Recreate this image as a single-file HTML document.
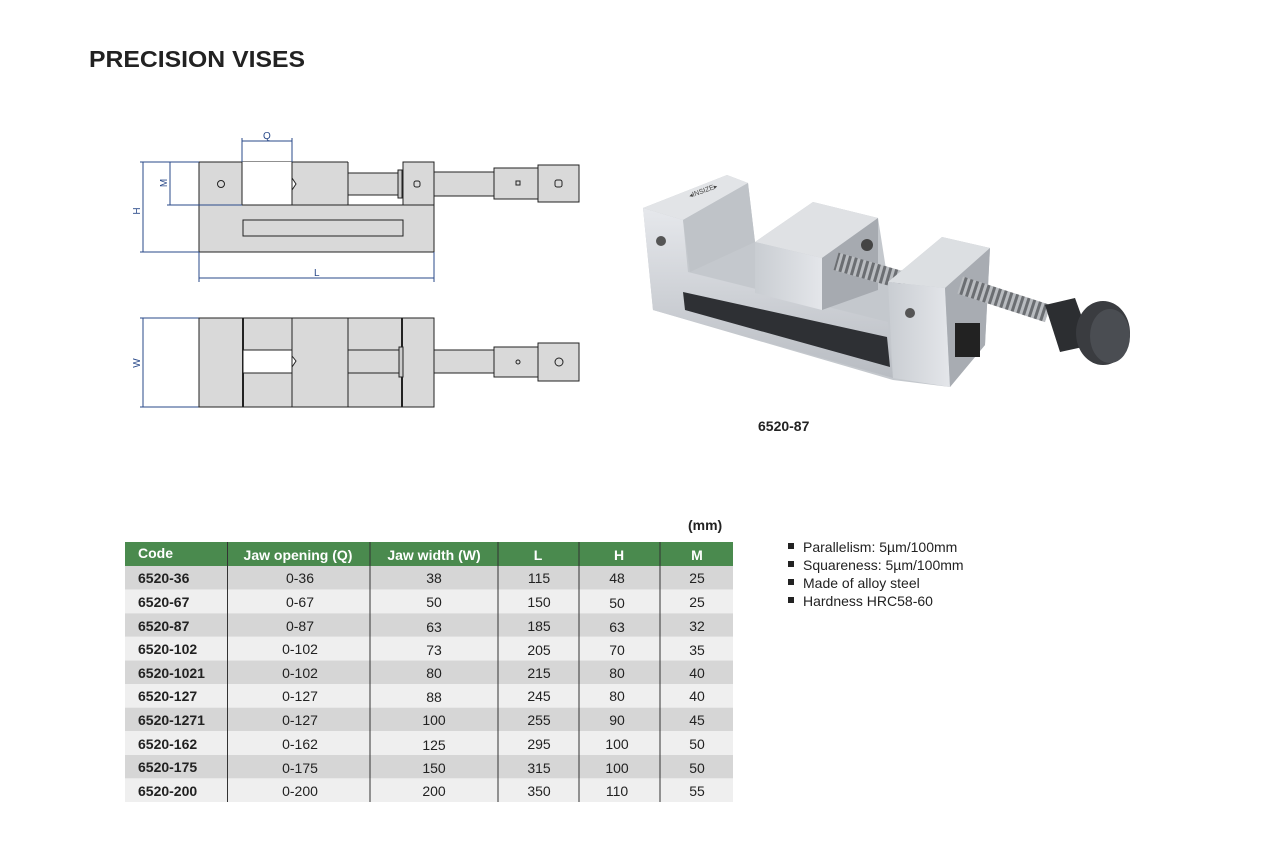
<!DOCTYPE html>
<html><head><meta charset="utf-8"><style>
html,body{margin:0;padding:0;background:#fff;}
svg{display:block;font-family:"Liberation Sans",Arial,sans-serif;}
</style></head><body>
<svg width="1276" height="851" viewBox="0 0 1276 851" xmlns="http://www.w3.org/2000/svg">
<defs>
<linearGradient id="g2" x1="0" y1="0" x2="1" y2="0"><stop offset="0" stop-color="#c9cdd2"/><stop offset="1" stop-color="#e4e6ea"/></linearGradient>
<linearGradient id="g3" x1="0" y1="0" x2="0" y2="1"><stop offset="0" stop-color="#e6e8ec"/><stop offset="1" stop-color="#b8bcc2"/></linearGradient>
<pattern id="spr" width="6" height="20" patternUnits="userSpaceOnUse"><rect width="6" height="20" fill="#b9bcc0"/><rect width="3" height="20" fill="#6b6e72"/></pattern>
</defs>
<text x="89" y="67" font-size="23" font-weight="bold" fill="#222" textLength="216" lengthAdjust="spacingAndGlyphs">PRECISION VISES</text>

<g stroke="#222" stroke-width="1" fill="#d9d9d9">
<rect x="199" y="162" width="235" height="90"/>
<rect x="242" y="162" width="50" height="43" fill="#fff" stroke="none"/>
<line x1="242" y1="162" x2="242" y2="205"/><line x1="292" y1="162" x2="292" y2="205"/>
<line x1="242" y1="205" x2="292" y2="205"/>
<rect x="348" y="161" width="55" height="44" fill="#fff" stroke="none"/>
<line x1="348" y1="162" x2="348" y2="205"/>
<line x1="242" y1="205" x2="403" y2="205"/>
<rect x="348" y="173" width="53" height="22"/>
<rect x="398" y="170" width="4" height="28" fill="#ccc"/>
<rect x="403" y="162" width="31" height="43"/>
<rect x="243" y="220" width="160" height="16"/>
<rect x="434" y="172" width="60" height="24"/>
<rect x="494" y="168" width="44" height="31"/>
<rect x="538" y="165" width="41" height="37"/>
<circle cx="221" cy="184" r="3.5" fill="none"/>
<rect x="414" y="181" width="6" height="6" rx="2" fill="none"/>
<rect x="516" y="181" width="4" height="4" fill="none"/>
<rect x="555" y="180" width="7" height="7" rx="2" fill="none"/>
<polygon points="292,178 296,184 292,190" fill="#fff"/>
</g>
<g stroke="#2a4a8a" stroke-width="1" fill="none">
<line x1="143" y1="162" x2="143" y2="252"/><line x1="140" y1="162" x2="199" y2="162"/><line x1="140" y1="252" x2="199" y2="252"/>
<line x1="170" y1="162" x2="170" y2="205"/><line x1="167" y1="205" x2="242" y2="205"/>
<line x1="242" y1="141" x2="292" y2="141"/><line x1="242" y1="138" x2="242" y2="162"/><line x1="292" y1="138" x2="292" y2="162"/>
<line x1="199" y1="278" x2="434" y2="278"/><line x1="199" y1="252" x2="199" y2="282"/><line x1="434" y1="252" x2="434" y2="282"/>
<line x1="143" y1="318" x2="143" y2="407"/><line x1="140" y1="318" x2="199" y2="318"/><line x1="140" y1="407" x2="199" y2="407"/>
</g>
<g font-size="10" fill="#2a4a8a">
<text x="263" y="139">Q</text><text x="314" y="276">L</text>
<text transform="translate(140,211) rotate(-90)" text-anchor="middle">H</text>
<text transform="translate(167,183) rotate(-90)" text-anchor="middle">M</text>
<text transform="translate(140,363) rotate(-90)" text-anchor="middle">W</text>
</g>
<g stroke="#222" stroke-width="1" fill="#d9d9d9">
<rect x="199" y="318" width="235" height="89"/>
<line x1="243" y1="318" x2="243" y2="407" stroke-width="2"/>
<line x1="292" y1="318" x2="292" y2="407"/>
<line x1="348" y1="318" x2="348" y2="407"/>
<line x1="402" y1="318" x2="402" y2="407" stroke-width="2"/>
<rect x="243" y="350" width="49" height="23" fill="#fff"/>
<polygon points="292,356 296,361 292,367" fill="#fff"/>
<rect x="348" y="350" width="52" height="23"/>
<rect x="399" y="347" width="4" height="30" fill="#ccc"/>
<rect x="434" y="350" width="60" height="23"/>
<rect x="494" y="347" width="44" height="30"/>
<rect x="538" y="343" width="41" height="38"/>
<circle cx="518" cy="362" r="2" fill="none"/>
<circle cx="559" cy="362" r="4" fill="none"/>
</g>

<g>
<polygon points="643,208 653,310 893,380 950,387 985,345 990,248 942,237 888,282 878,218 813,202 755,242 748,183 727,175" fill="#c4c8cd"/>
<polygon points="643,208 683,220 688,272 888,322 893,378 653,310" fill="url(#g3)"/>
<polygon points="683,292 887,337 890,367 685,310" fill="#2e3034"/>
<polygon points="643,208 727,175 748,183 683,220" fill="#e2e4e7"/>
<polygon points="683,220 748,183 755,242 690,272" fill="#bfc3c8"/>
<polygon points="755,242 813,202 878,218 822,258" fill="#dfe1e4"/>
<polygon points="755,242 822,258 822,310 755,293" fill="url(#g2)"/>
<polygon points="822,258 878,218 878,290 822,310" fill="#a6aab0"/>
<rect x="835" y="262" width="72" height="18" fill="url(#spr)" transform="rotate(16 870 270)"/>
<polygon points="888,282 942,237 990,248 945,288" fill="#dcdfe2"/>
<polygon points="888,282 945,288 950,387 893,378" fill="url(#g2)"/>
<polygon points="945,288 990,248 985,345 950,387" fill="#a8acb2"/>
<rect x="955" y="323" width="25" height="34" fill="#222"/>
<rect x="958" y="290" width="92" height="18" fill="url(#spr)" transform="rotate(18 1003 299)"/>
<polygon points="1045,305 1075,298 1092,345 1060,352" fill="#2c2e31"/>
<ellipse cx="1103" cy="333" rx="27" ry="32" fill="#3a3c40"/>
<ellipse cx="1110" cy="336" rx="20" ry="27" fill="#4a4d52"/>
<circle cx="661" cy="241" r="5" fill="#555"/>
<circle cx="910" cy="313" r="5" fill="#555"/>
<circle cx="867" cy="245" r="6" fill="#444"/>
<text x="690" y="198" font-size="7" fill="#444" transform="rotate(-20 690 198)">◂INSIZE▸</text>
</g>
<text x="758" y="431" font-size="14" font-weight="bold" fill="#222">6520-87</text>

<text x="688" y="530" font-size="14" font-weight="bold" fill="#222">(mm)</text>
<rect x="125" y="542" width="608" height="24" fill="#4a8a4e"/>
<g fill="#d6d6d6">
<rect x="125" y="566" width="608" height="23.6"/>
<rect x="125" y="613.2" width="608" height="23.6"/>
<rect x="125" y="660.4" width="608" height="23.6"/>
<rect x="125" y="707.6" width="608" height="23.6"/>
<rect x="125" y="754.8" width="608" height="23.6"/>
</g>
<g fill="#efefef">
<rect x="125" y="589.6" width="608" height="23.6"/>
<rect x="125" y="636.8" width="608" height="23.6"/>
<rect x="125" y="684" width="608" height="23.6"/>
<rect x="125" y="731.2" width="608" height="23.6"/>
<rect x="125" y="778.4" width="608" height="23.6"/>
</g>
<g stroke="#333" stroke-width="1">
<line x1="227.5" y1="542" x2="227.5" y2="802"/><line x1="370" y1="542" x2="370" y2="802"/>
<line x1="498" y1="542" x2="498" y2="802"/><line x1="579" y1="542" x2="579" y2="802"/>
<line x1="660" y1="542" x2="660" y2="802"/>
</g>
<g font-size="14" fill="#fff" font-weight="bold">
<text x="138" y="558">Code</text>
<text x="298" y="560" text-anchor="middle">Jaw opening (Q)</text>
<text x="434" y="560" text-anchor="middle">Jaw width (W)</text>
<text x="538" y="560" text-anchor="middle">L</text>
<text x="619" y="560" text-anchor="middle">H</text>
<text x="697" y="560" text-anchor="middle">M</text>
</g>
<g font-size="14" fill="#222">
<g font-weight="bold">
<text x="138" y="583">6520-36</text><text x="138" y="607">6520-67</text><text x="138" y="631">6520-87</text>
<text x="138" y="654">6520-102</text><text x="138" y="678">6520-1021</text><text x="138" y="701">6520-127</text>
<text x="138" y="725">6520-1271</text><text x="138" y="749">6520-162</text><text x="138" y="772">6520-175</text>
<text x="138" y="796">6520-200</text>
</g>
<g text-anchor="middle">
<text x="300" y="583">0-36</text><text x="434" y="583">38</text><text x="539" y="583">115</text><text x="617" y="583">48</text><text x="697" y="583">25</text>
<text x="300" y="607">0-67</text><text x="434" y="607">50</text><text x="539" y="607">150</text><text x="617" y="608">50</text><text x="697" y="607">25</text>
<text x="300" y="631">0-87</text><text x="434" y="632">63</text><text x="539" y="631">185</text><text x="617" y="632">63</text><text x="697" y="631">32</text>
<text x="300" y="654">0-102</text><text x="434" y="655">73</text><text x="539" y="655">205</text><text x="617" y="655">70</text><text x="697" y="655">35</text>
<text x="300" y="678">0-102</text><text x="434" y="678">80</text><text x="539" y="678">215</text><text x="617" y="678">80</text><text x="697" y="678">40</text>
<text x="300" y="701">0-127</text><text x="434" y="702">88</text><text x="539" y="701">245</text><text x="617" y="701">80</text><text x="697" y="701">40</text>
<text x="300" y="725">0-127</text><text x="434" y="725">100</text><text x="539" y="725">255</text><text x="617" y="725">90</text><text x="697" y="725">45</text>
<text x="300" y="749">0-162</text><text x="434" y="750">125</text><text x="539" y="749">295</text><text x="617" y="749">100</text><text x="697" y="749">50</text>
<text x="300" y="773">0-175</text><text x="434" y="773">150</text><text x="539" y="773">315</text><text x="617" y="773">100</text><text x="697" y="773">50</text>
<text x="300" y="796">0-200</text><text x="434" y="796">200</text><text x="539" y="796">350</text><text x="617" y="796">110</text><text x="697" y="796">55</text>
</g>
</g>

<g font-size="14" fill="#222">
<rect x="788" y="543" width="6" height="6"/><text x="803" y="552">Parallelism: 5µm/100mm</text>
<rect x="788" y="561" width="6" height="6"/><text x="803" y="570">Squareness: 5µm/100mm</text>
<rect x="788" y="579" width="6" height="6"/><text x="803" y="588">Made of alloy steel</text>
<rect x="788" y="597" width="6" height="6"/><text x="803" y="606">Hardness HRC58-60</text>
</g>
</svg>
</body></html>
